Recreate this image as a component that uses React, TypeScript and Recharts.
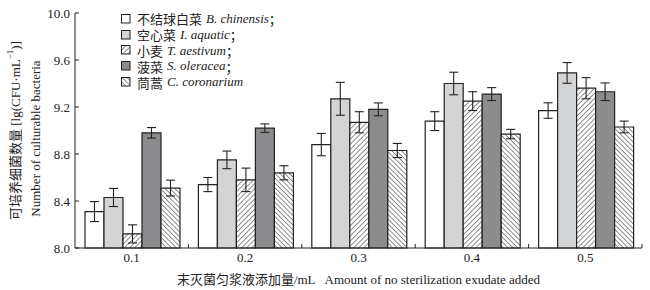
import { BarChart, Bar, XAxis, YAxis, ErrorBar, Legend, Label } from 'recharts';

const categories = ['0.1', '0.2', '0.3', '0.4', '0.5'];
const yTicks = [8.0, 8.4, 8.8, 9.2, 9.6, 10.0];

// lg(CFU/mL)
const chinensis = [8.31, 8.54, 8.88, 9.08, 9.17];
const chinensisErr = [0.085, 0.06, 0.095, 0.08, 0.066];
const aquatic = [8.43, 8.75, 9.27, 9.4, 9.49];
const aquaticErr = [0.077, 0.075, 0.14, 0.096, 0.088];
const aestivum = [8.12, 8.58, 9.07, 9.25, 9.36];
const aestivumErr = [0.077, 0.1, 0.09, 0.08, 0.09];
const oleracea = [8.98, 9.02, 9.18, 9.31, 9.33];
const oleraceaErr = [0.045, 0.036, 0.055, 0.055, 0.075];
const coronarium = [8.51, 8.64, 8.83, 8.97, 9.03];
const coronariumErr = [0.067, 0.06, 0.06, 0.04, 0.05];

const data = categories.map((cat, i) => ({
  cat,
  chinensis: chinensis[i], chinensisErr: chinensisErr[i],
  aquatic: aquatic[i], aquaticErr: aquaticErr[i],
  aestivum: aestivum[i], aestivumErr: aestivumErr[i],
  oleracea: oleracea[i], oleraceaErr: oleraceaErr[i],
  coronarium: coronarium[i], coronariumErr: coronariumErr[i],
}));

const INK = '#222';
const FONT = "'Liberation Serif', 'Noto Sans CJK SC', serif";

const series = [
  { key: 'chinensis', fill: '#ffffff', zh: '不结球白菜', la: 'B. chinensis', tail: '；' },
  { key: 'aquatic', fill: '#d3d4d6', zh: '空心菜', la: 'I. aquatic', tail: '；' },
  { key: 'aestivum', fill: 'url(#hatchFwd)', zh: '小麦', la: 'T. aestivum', tail: '；' },
  { key: 'oleracea', fill: '#8c8c8e', zh: '菠菜', la: 'S. oleracea', tail: '；' },
  { key: 'coronarium', fill: 'url(#hatchBack)', zh: '茼蒿', la: 'C. coronarium', tail: '' },
];

function YTick(props: any) {
  const { x, y, payload } = props;
  return (
    <g>
      <line x1={x + 5} x2={x + 9} y1={y} y2={y} stroke={INK} />
      <text x={x} y={y} dy="0.35em" textAnchor="end" fontSize={13} fill={INK}>
        {Number(payload.value).toFixed(1)}
      </text>
    </g>
  );
}

function XTick(props: any) {
  const { x, y, payload } = props;
  const edge = x + (payload.offset ?? 0);
  const axisY = y - 5;
  return (
    <g>
      <line x1={edge} x2={edge} y1={axisY} y2={axisY - 4} stroke={INK} />
      <text x={x} y={y} dy="0.71em" textAnchor="middle" fontSize={13} fill={INK}>
        {payload.value}
      </text>
    </g>
  );
}

function YTitle(props: any) {
  const vb = props.viewBox;
  const cy = vb.y + vb.height / 2;
  return (
    <g fontSize={13} fill={INK}>
      <text transform={`translate(${vb.x + 15},${cy}) rotate(-90)`} textAnchor="middle" dominantBaseline="central">
        可培养细菌数量 [lg(CFU·mL
        <tspan fontSize={9} dy={-5}>−1</tspan>
        <tspan dy={5}>)]</tspan>
      </text>
      <text transform={`translate(${vb.x + 35},${cy + 8}) rotate(-90)`} textAnchor="middle" dominantBaseline="central">
        Number of culturable bacteria
      </text>
    </g>
  );
}

function XTitle(props: any) {
  const vb = props.viewBox;
  return (
    <text x={vb.x + vb.width / 2} y={279} textAnchor="middle" dominantBaseline="central" fontSize={13} fill={INK}>
      末灭菌匀浆液添加量/mL
      <tspan dx={9}>Amount of no sterilization exudate added</tspan>
    </text>
  );
}

function LegendBox() {
  return (
    <div style={{ fontFamily: FONT, fontSize: 13, color: INK }}>
      {series.map((s) => (
        <div key={s.key} style={{ display: 'flex', alignItems: 'center', height: 15.8, whiteSpace: 'nowrap' }}>
          <svg width={10} height={10} style={{ marginRight: 6 }}>
            <rect x={0.5} y={0.5} width={8.5} height={8.5} fill={s.fill} stroke={INK} strokeWidth={1} />
          </svg>
          <span>{s.zh} </span>
          <span style={{ fontStyle: 'italic', marginLeft: 4 }}>{s.la}</span>
          <span>{s.tail}</span>
        </div>
      ))}
    </div>
  );
}

export default function App() {
  return (
    <div style={{ position: 'absolute', left: 0, top: 0, width: 650, height: 290, background: '#fff', fontFamily: FONT }}>
      <BarChart
        width={650}
        height={290}
        data={data}
        margin={{ top: 13, right: 8, bottom: 0, left: 0 }}
        barCategoryGap={10}
        barGap={0}
      >
        <defs>
          <pattern id="hatchFwd" patternUnits="userSpaceOnUse" width={3.6} height={3.6} patternTransform="rotate(45)">
            <rect width={3.6} height={3.6} fill="#fff" />
            <line x1={0} y1={0} x2={0} y2={3.6} stroke="#333" strokeWidth={1.1} />
          </pattern>
          <pattern id="hatchBack" patternUnits="userSpaceOnUse" width={3.4} height={3.4} patternTransform="rotate(-45)">
            <rect width={3.4} height={3.4} fill="#fff" />
            <line x1={0} y1={0} x2={0} y2={3.4} stroke="#333" strokeWidth={1.1} />
          </pattern>
        </defs>
        <XAxis
          dataKey="cat"
          height={42}
          axisLine={{ stroke: INK }}
          tickLine={false}
          tickSize={0}
          tickMargin={5}
          tick={<XTick />}
          interval={0}
        >
          <Label content={<XTitle />} />
        </XAxis>
        <YAxis
          width={75}
          domain={[8, 10]}
          ticks={yTicks}
          axisLine={{ stroke: INK }}
          tickLine={false}
          tickSize={0}
          tickMargin={5}
          tick={<YTick />}
          interval={0}
        >
          <Label content={<YTitle />} />
        </YAxis>
        <Legend
          layout="vertical"
          align="center"
          verticalAlign="middle"
          content={<LegendBox />}
          wrapperStyle={{ left: 121, top: 11, width: 'auto' }}
        />
        {series.map((s) => (
          <Bar key={s.key} dataKey={s.key} fill={s.fill} stroke={INK} strokeWidth={1.2} isAnimationActive={false}>
            <ErrorBar dataKey={`${s.key}Err`} width={4.5} stroke={INK} strokeWidth={1.1} direction="y" isAnimationActive={false} />
          </Bar>
        ))}
      </BarChart>
    </div>
  );
}
